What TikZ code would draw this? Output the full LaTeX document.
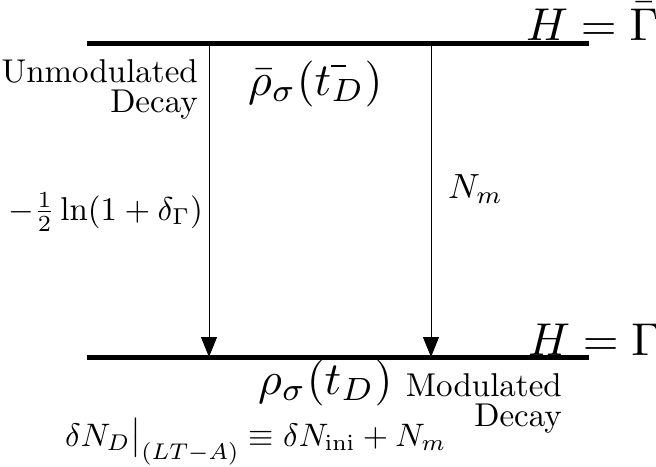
\documentclass[tikz,border=0pt]{standalone}
\usetikzlibrary{arrows.meta}
\newcommand{\lblsz}[1]{\scalebox{3.3}{#1}}
\newcommand{\bigsz}[1]{\scalebox{4.6}{#1}}
\newcommand{\midsz}[1]{\scalebox{3.5}{#1}}
\newcommand{\eqsz}[1]{\scalebox{3.25}{#1}}
\begin{document}
\begin{tikzpicture}[x=1pt,y=-1pt,
  level/.style={line width=5pt},
  trans/.style={line width=1pt,-{Triangle[length=20pt,width=16pt]}},
  lbl/.style={inner sep=0pt}]
\useasboundingbox (0,0) rectangle (656,466);
% levels
\coordinate (tl) at (87,43);
\coordinate (tr) at (589,43);
\coordinate (bl) at (87,357);
\coordinate (br) at (589,357);
\draw[level] (tl) -- (tr);
\draw[level] (bl) -- (br);
% arrows
\coordinate (a1) at (209,43);
\coordinate (b1) at (209,357);
\coordinate (a2) at (431,43);
\coordinate (b2) at (431,357);
\draw[trans] (a1) -- (b1);
\draw[trans] (a2) -- (b2);
% labels
\node[lbl,anchor=base west] (Htop) at (526,40) {\bigsz{$H=\bar\Gamma$}};
\node[lbl,anchor=base west] (Hbot) at (528,355) {\bigsz{$H=\Gamma$}};
\node[lbl,anchor=base east] (un1) at (198,82) {\lblsz{Unmodulated}};
\node[lbl,anchor=base east] (un2) at (198,112) {\lblsz{Decay}};
\node[lbl,anchor=base west] (rhobar) at (248,95) {\bigsz{$\bar\rho_\sigma({t\rlap{\rule[6pt]{3.3pt}{0.45pt}}}_D)$}};
\node[lbl,anchor=base west] (ln) at (8,220) {\lblsz{$-\frac{1}{2}\ln(1+\delta_\Gamma)$}};
\node[lbl,anchor=base west] (Nm) at (448,198) {\midsz{$N_m$}};
\node[lbl,anchor=base west] (rho) at (258,394) {\bigsz{$\rho_\sigma(t_D)$}};
\node[lbl,anchor=base east] (mo1) at (562,396) {\lblsz{Modulated}};
\node[lbl,anchor=base east] (mo2) at (562,426) {\lblsz{Decay}};
\node[lbl,anchor=base west] (eq) at (65,446) {\eqsz{$\delta N_D\big|_{(LT-A)}\equiv\delta N_{\rm ini}+N_m$}};
\end{tikzpicture}
\end{document}
